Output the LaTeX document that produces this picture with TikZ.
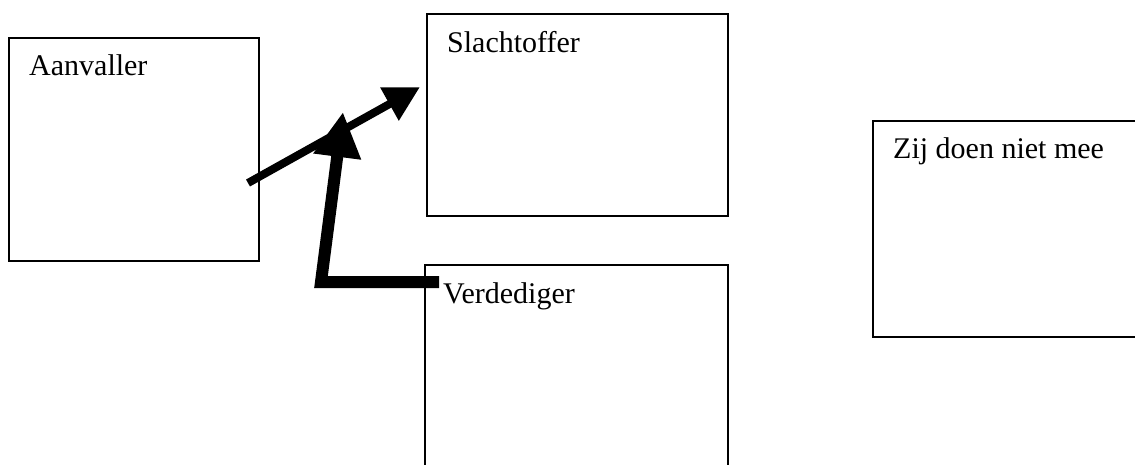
\documentclass[tikz,border=0pt]{standalone}
\usepackage{fontspec}
\setmainfont{Liberation Serif}
\usetikzlibrary{arrows.meta}
\begin{document}
\begin{tikzpicture}[x=1pt,y=-1pt,
  box/.style={draw, line width=1.5pt, rectangle, anchor=north west, inner sep=0pt},
  lbl/.style={anchor=base west, inner sep=0pt, font=\fontsize{30}{36}\selectfont},
  thinarrow/.style={line width=8pt, -{Triangle[length=35pt,width=36pt]}},
  thickarrow/.style={line width=12pt, -{Triangle[length=45pt,width=45pt]}}]
\useasboundingbox (0,0) rectangle (1135,464);
% boxes
\node[box, minimum width=250pt, minimum height=223pt] (aanvaller) at (8,37) {};
\node[box, minimum width=301pt, minimum height=202pt] (slachtoffer) at (426,13) {};
\node[box, minimum width=303pt, minimum height=230pt] (verdediger) at (424,264) {};
\node[box, minimum width=300pt, minimum height=216pt] (zij) at (872,120) {};
% labels
\node[lbl] (taanvaller) at (29,75) {Aanvaller};
\node[lbl] (tslachtoffer) at (447,52) {Slachtoffer};
\node[lbl] (tverdediger) at (443,303) {Verdediger};
\node[lbl] (tzij) at (893,158) {Zij doen niet mee};
% arrows
\coordinate (a1s) at (248,183);
\coordinate (a1e) at (420,87);
\draw[thinarrow] (a1s) -- (a1e);
\coordinate (a2s) at (439,282);
\coordinate (a2c) at (321,282);
\coordinate (a2e) at (343,112);
\draw[thickarrow] (a2s) -- (a2c) -- (a2e);
\end{tikzpicture}
\end{document}
